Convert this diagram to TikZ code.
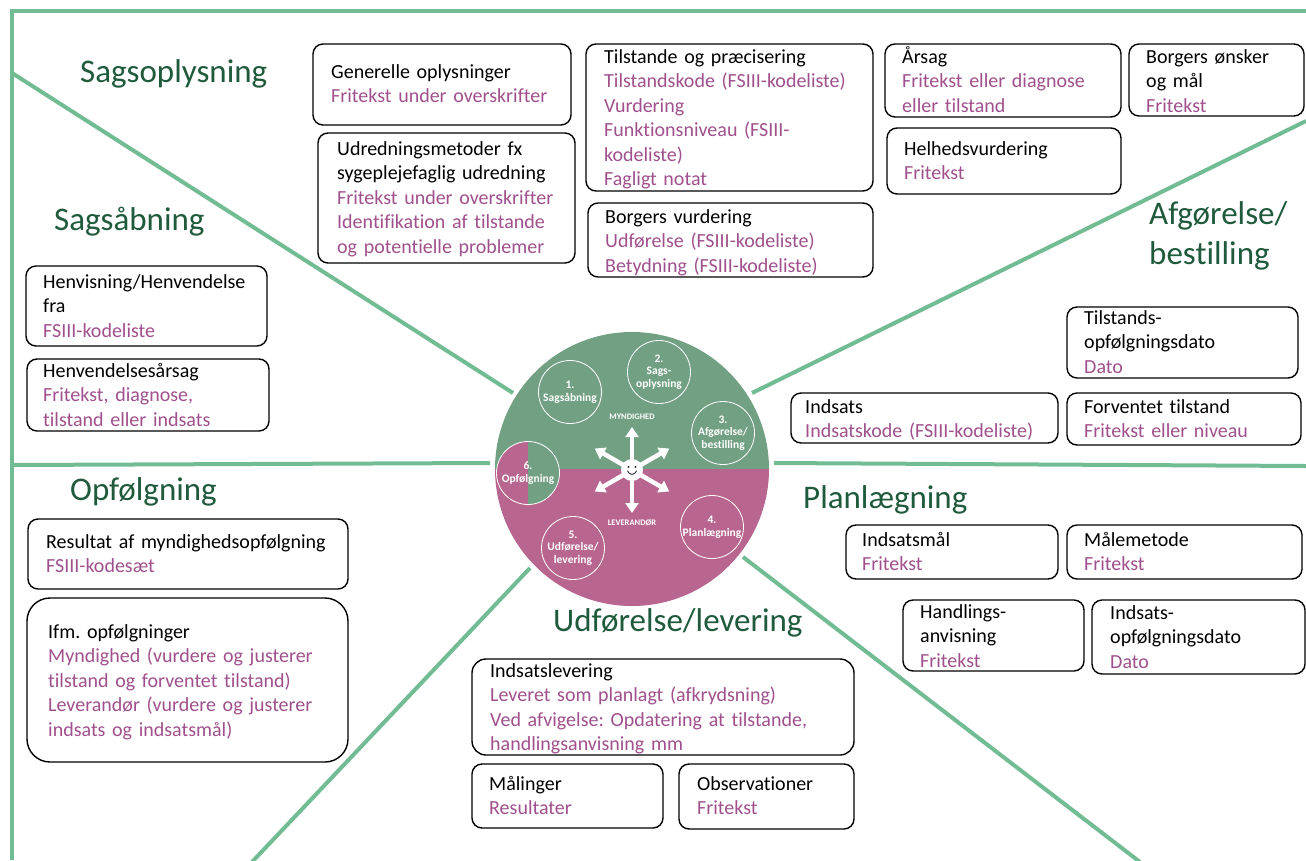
\documentclass[tikz,border=0pt]{standalone}
\usepackage{fontspec}
\setmainfont{Carlito}[Ligatures=NoCommon]
\usetikzlibrary{arrows.meta}
\definecolor{framegreen}{RGB}{114,188,148}
\definecolor{titlegreen}{RGB}{31,90,60}
\definecolor{purp}{RGB}{160,80,140}
\definecolor{cgreen}{RGB}{114,160,130}
\definecolor{cpink}{RGB}{184,102,144}
\newcommand\pu[1]{\textcolor{purp}{#1}}
\newcommand\mkbox[6][10pt]{\node[ibx, rounded corners=#1, minimum width={#5-#3}, minimum height={#6-#4}] (#2) at ({(#3+#5)/2},{(#4+#6)/2}) {};}
\frenchspacing
\tikzset{
  ibx/.style={draw=black, line width=1.4pt, fill=white, inner sep=0pt},
  txt/.style={anchor=base west, inner sep=0pt, text width=420pt, align=left, font=\fontsize{20}{24.5}\selectfont\frenchspacing},
  ttl/.style={anchor=base west, inner sep=0pt, align=left, text=titlegreen, font=\fontsize{33}{40}\selectfont},
  frame/.style={draw=framegreen, line width=4pt},
  subc/.style={circle, draw=white, line width=0.8pt, minimum size=63pt, inner sep=0pt, text=white, align=center, font=\bfseries\fontsize{11.5}{12.7}\selectfont},
  role/.style={text=white, inner sep=0pt, font=\bfseries\fontsize{8.5}{9}\selectfont},
  arr/.style={draw=white, line width=4.5pt, -{Triangle[width=13pt,length=10pt]}}
}
\begin{document}
\begin{tikzpicture}[x=1pt,y=-1pt]
\useasboundingbox (0,0) rectangle (1306,860);
\fill[white] (0,0) rectangle (1306,860);

% frame and section lines
\coordinate (ftl) at (12,11);
\coordinate (ftr) at (1306,11);
\coordinate (fbl) at (12,860);
\draw[frame] (10,11) -- (ftr);
\draw[frame] (ftl) -- (fbl);
\coordinate (l1a) at (12,73);   \coordinate (l1b) at (513,393);
\coordinate (l2a) at (752,393); \coordinate (l2b) at (1306,121);
\coordinate (l3a) at (774,463); \coordinate (l3b) at (1306,466);
\coordinate (l4a) at (12,465);  \coordinate (l4b) at (490,463);
\coordinate (l5a) at (530,568); \coordinate (l5b) at (252,862);
\coordinate (l6a) at (743,557); \coordinate (l6b) at (1140,862);
\draw[frame] (l1a) -- (l1b);
\draw[frame] (l2a) -- (l2b);
\draw[frame] (l3a) -- (l3b);
\draw[frame] (l4a) -- (l4b);
\draw[frame] (l5a) -- (l5b);
\draw[frame] (l6a) -- (l6b);

% central circle
\node[circle, minimum size=274pt, inner sep=0pt] (main) at (632,469) {};
\begin{scope}
\clip (main.center) circle (137pt);
\fill[cgreen] (490,325) rectangle (775,469);
\fill[cpink] (490,469) rectangle (775,612);
\end{scope}
\coordinate (c6c) at (528,473);
\begin{scope}
\clip (c6c) circle (31.5pt);
\fill[cpink] (490,435) rectangle (528,510);
\fill[cgreen] (528,435) rectangle (565,510);
\end{scope}
\node[subc] (c1) at (570,392) {1.\\Sagsåbning};
\node[subc] (c2) at (659,372) {2.\\Sags-\\oplysning};
\node[subc] (c3) at (723,433) {3.\\Afgørelse/\\bestilling};
\node[subc] (c4) at (712,527) {4.\\Planlægning};
\node[subc] (c5) at (573,548) {5.\\Udførelse/\\levering};
\node[subc] (c6) at (c6c) {6.\\Opfølgning};
\node[role] (myn) at (632,417) {MYNDIGHED};
\node[role] (lev) at (632,523) {LEVERANDØR};

% smiley with arrows
\coordinate (smc) at (632,470);
\foreach \a/\n in {90/a1,30/a2,150/a3,210/a4,270/a5,330/a6}{
  \path (smc) ++(\a:43) coordinate (\n);
  \draw[arr] (smc) -- (\n);
}
\node[circle, fill=white, minimum size=22pt, inner sep=0pt] (sm) at (smc) {};
\fill[black!80] (628.5,467) circle (1.2pt);
\fill[black!80] (635.5,467) circle (1.2pt);
\draw[black!80, line width=0.9pt, line cap=round] (627.5,471) .. controls (629.5,475.5) and (634.5,475.5) .. (636.5,471);

% section titles
\node[ttl] (s1) at (80,82) {Sagsoplysning};
\node[ttl] (s2) at (54,230) {Sagsåbning};
\node[ttl] (s3) at (1149,264) {Afgørelse/\\bestilling};
\node[ttl] (s4) at (70,500) {Opfølgning};
\node[ttl] (s5) at (803,508) {Planlægning};
\node[ttl] (s6) at (553,631) {Udførelse/levering};

% boxes
\mkbox{b1}{313}{44}{571}{125}
\node[txt] (t1) at (331,78) {Generelle oplysninger\\\pu{Fritekst under overskrifter}};
\mkbox{b2}{318}{133}{575}{263}
\node[txt] (t2) at (337,155) {Udredningsmetoder fx\\sygeplejefaglig udredning\\\pu{Fritekst under overskrifter}\\\pu{Identifikation af tilstande}\\\pu{og potentielle problemer}};
\mkbox{b3}{586}{44}{873}{191}
\node[txt] (t3) at (604,63) {Tilstande og præcisering\\\pu{Tilstandskode (FSIII-kodeliste)}\\\pu{Vurdering}\\\pu{Funktionsniveau (FSIII-}\\\pu{kodeliste)}\\\pu{Fagligt notat}};
\mkbox{b4}{588}{203}{873}{277}
\node[txt] (t4) at (605,223) {Borgers vurdering\\\pu{Udførelse (FSIII-kodeliste)}\\\pu{Betydning (FSIII-kodeliste)}};
\mkbox{b5}{885}{44}{1121}{117}
\node[txt] (t5) at (902,63) {Årsag\\\pu{Fritekst eller diagnose}\\\pu{eller tilstand}};
\mkbox{b6}{1129}{44}{1304}{116}
\node[txt] (t6) at (1146,63) {Borgers ønsker\\og mål\\\pu{Fritekst}};
\mkbox{b7}{887}{128}{1121}{194}
\node[txt] (t7) at (904,155) {Helhedsvurdering\\\pu{Fritekst}};
\mkbox{b8}{26}{266}{267}{346}
\node[txt] (t8) at (43,288) {Henvisning/Henvendelse\\fra\\\pu{FSIII-kodeliste}};
\mkbox{b9}{27}{359}{269}{431}
\node[txt] (t9) at (43,377) {Henvendelsesårsag\\\pu{Fritekst, diagnose,}\\\pu{tilstand eller indsats}};
\mkbox{b10}{1067}{307}{1298}{378}
\node[txt] (t10) at (1084,324) {Tilstands-\\opfølgningsdato\\\pu{Dato}};
\mkbox{b11}{791}{393}{1058}{443}
\node[txt] (t11) at (805,413) {Indsats\\\pu{Indsatskode (FSIII-kodeliste)}};
\mkbox{b12}{1067}{393}{1301}{445}
\node[txt] (t12) at (1084,413) {Forventet tilstand\\\pu{Fritekst eller niveau}};
\mkbox{b13}{28}{519}{348}{589}
\node[txt] (t13) at (46,548) {Resultat af myndighedsopfølgning\\\pu{FSIII-kodesæt}};
\mkbox[23pt]{b14}{27}{598}{348}{762}
\node[txt] (t14) at (48,638) {Ifm. opfølgninger\\\pu{Myndighed (vurdere og justerer}\\\pu{tilstand og forventet tilstand)}\\\pu{Leverandør (vurdere og justerer}\\\pu{indsats og indsatsmål)}};
\mkbox{b15}{846}{525}{1058}{579}
\node[txt] (t15) at (862,546) {Indsatsmål\\\pu{Fritekst}};
\mkbox{b16}{1067}{525}{1302}{579}
\node[txt] (t16) at (1084,546) {Målemetode\\\pu{Fritekst}};
\mkbox{b17}{903}{600}{1084}{671}
\node[txt] (t17) at (920,618) {Handlings-\\anvisning\\\pu{Fritekst}};
\mkbox{b18}{1092}{600}{1305}{674}
\node[txt] (t18) at (1110,619) {Indsats-\\opfølgningsdato\\\pu{Dato}};
\mkbox[14pt]{b19}{472}{659}{854}{755}
\node[txt] (t19) at (490,677) {Indsatslevering\\\pu{Leveret som planlagt (afkrydsning)}\\\pu{Ved afvigelse: Opdatering at tilstande,}\\\pu{handlingsanvisning mm}};
\mkbox{b20}{472}{764}{663}{828}
\node[txt] (t20) at (489,790) {Målinger\\\pu{Resultater}};
\mkbox{b21}{679}{764}{854}{829}
\node[txt] (t21) at (697,790) {Observationer\\\pu{Fritekst}};
\end{tikzpicture}
\end{document}
